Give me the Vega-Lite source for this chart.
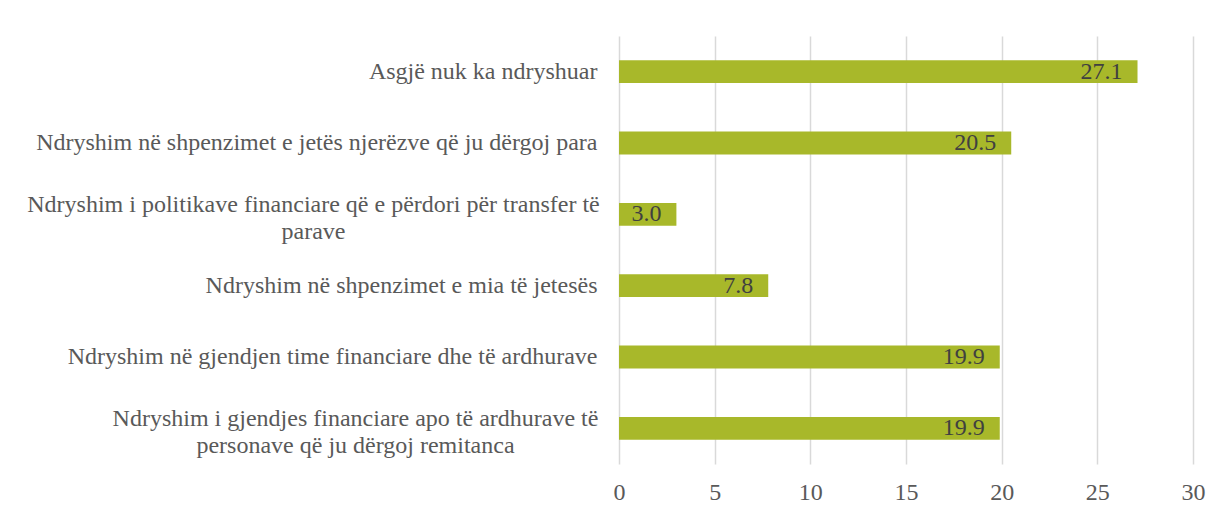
{
  "$schema": "https://vega.github.io/schema/vega-lite/v6.json",
  "width": 574,
  "height": 428,
  "autosize": {"type": "none"},
  "padding": {"left": 619, "top": 36, "right": 28, "bottom": 54},
  "background": "white",
  "config": {
    "view": {"stroke": null},
    "font": "Liberation Serif"
  },
  "data": {
    "values": [
      {"label": "Asgjë nuk ka ndryshuar", "value": 27.1},
      {"label": "Ndryshim në shpenzimet e jetës njerëzve që ju dërgoj para", "value": 20.5},
      {"label": "Ndryshim i politikave financiare që e përdori për transfer të|parave", "value": 3.0},
      {"label": "Ndryshim në shpenzimet e mia të jetesës", "value": 7.8},
      {"label": "Ndryshim në gjendjen time financiare dhe të ardhurave", "value": 19.9},
      {"label": "Ndryshim i gjendjes financiare apo të ardhurave të|personave që ju dërgoj remitanca", "value": 19.9}
    ]
  },
  "encoding": {
    "y": {
      "field": "label",
      "type": "nominal",
      "sort": null,
      "scale": {"paddingInner": 0.68, "paddingOuter": 0.34},
      "axis": {
        "title": null,
        "domain": false,
        "ticks": false,
        "grid": false,
        "labelFontSize": 24,
        "labelColor": "#595959",
        "labelFont": "Liberation Serif",
        "labelLimit": 700,
        "labelLineHeight": 27,
        "labelExpr": "split(datum.label, '|')",
        "labelAlign": {"condition": {"test": "indexof(datum.value, '|') >= 0", "value": "center"}, "value": "right"},
        "labelPadding": {"condition": [
          {"test": "indexof(datum.value, 'politikave') >= 0", "value": 306},
          {"test": "indexof(datum.value, 'remitanca') >= 0", "value": 264}
        ], "value": 22},
        "labelOffset": {"condition": {"test": "indexof(datum.value, '|') >= 0", "value": -9}, "value": 0}
      }
    },
    "x": {
      "field": "value",
      "type": "quantitative",
      "scale": {"domain": [0, 30], "nice": false},
      "axis": {
        "title": null,
        "values": [0, 5, 10, 15, 20, 25, 30],
        "domain": false,
        "ticks": false,
        "grid": true,
        "gridColor": "#d9d9d9",
        "gridWidth": 1.5,
        "labelFlush": false,
        "labelPadding": 16,
        "labelFontSize": 24,
        "labelColor": "#595959",
        "labelFont": "Liberation Serif"
      }
    }
  },
  "layer": [
    {
      "mark": {"type": "bar", "color": "#a8b82a"}
    },
    {
      "mark": {"type": "text", "align": "right", "baseline": "middle", "dx": -15, "fontSize": 24, "font": "Liberation Serif", "color": "#404040"},
      "encoding": {
        "text": {"field": "value", "type": "quantitative", "format": ".1f"}
      }
    }
  ]
}
